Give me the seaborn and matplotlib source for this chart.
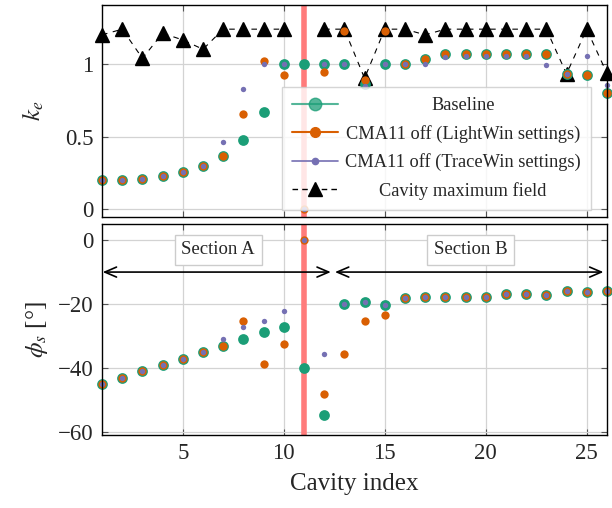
import numpy as np
import pandas as pd
import matplotlib
matplotlib.use("Agg")
import matplotlib.pyplot as plt
from matplotlib.lines import Line2D
import seaborn as sns

# ---------------- data ----------------
cavity_index = list(range(1, 27))

ke_baseline = [0.20, 0.20, 0.21, 0.227, 0.256, 0.30, 0.37, 0.475, 0.667, 1.0,
               1.0, 1.0, 1.0, 0.86, 1.0, 1.0, 1.03, 1.07, 1.07, 1.07,
               1.07, 1.07, 1.07, 0.927, 0.925, 0.80]
ke_lightwin = [0.20, 0.20, 0.21, 0.227, 0.256, 0.30, 0.37, 0.656, 1.02, 0.924,
               0.0, 0.945, 1.227, 0.888, 1.227, 1.0, 1.03, 1.07, 1.07, 1.07,
               1.07, 1.07, 1.07, 0.927, 0.925, 0.80]
ke_tracewin = [0.20, 0.20, 0.21, 0.227, 0.256, 0.30, 0.46, 0.828, 1.0, 1.0,
               0.0, 1.0, 1.0, 0.846, 1.0, 1.0, 1.0, 1.044, 1.05, 1.05,
               1.05, 1.05, 0.99, 0.927, 1.053, 0.853]
ke_cavity_max = [1.198, 1.237, 1.037, 1.209, 1.163, 1.099, 1.237, 1.237, 1.237, 1.237,
                 np.nan, 1.237, 1.237, 0.90, 1.237, 1.237, 1.198, 1.237, 1.237, 1.237,
                 1.237, 1.237, 1.237, 0.93, 1.237, 0.934]

phi_baseline = [-45, -43, -41, -39, -37, -35, -33, -31, -28.8, -27,
                -40, -54.7, -20, -19.2, -20.4, -18.1, -17.9, -17.9, -17.9, -17.7,
                -16.9, -16.8, -17, -15.9, -16.1, -15.9]
phi_lightwin = [-45, -43, -41, -39, -37, -35, -33, -25.1, -38.8, -32.3,
                0, -47.9, -35.4, -25.2, -23.5, -18.1, -17.9, -17.9, -17.9, -17.7,
                -16.9, -16.8, -17, -15.9, -16.1, -15.9]
phi_tracewin = [-45, -43, -41, -39, -37, -35, -31, -27.2, -25.4, -22,
                0, -35.4, -20, -19.2, -20.4, -18.1, -17.9, -17.9, -17.9, -17.7,
                -16.9, -16.8, -17, -15.9, -16.1, -15.9]

failed_cavity = 11
section_bounds = [1, 12.5, 26]
section_labels = ["Section A", "Section B"]
legend_labels = ["Baseline", "CMA11 off (LightWin settings)",
                 "CMA11 off (TraceWin settings)", "Cavity maximum field"]

# ---------------- style ----------------
sns.set_theme(style="whitegrid")
plt.rcParams["font.family"] = ["Liberation Serif", "DejaVu Serif"]
plt.rcParams["mathtext.fontset"] = "stix"

c_base, c_lw, c_tw = "#1b9e77", "#d95f02", "#7570b3"

fig = plt.figure(figsize=(6.12, 5.08), dpi=100)
ax1 = fig.add_axes([0.1667, 0.5734, 0.825, 0.4168])
ax2 = fig.add_axes([0.1667, 0.1437, 0.825, 0.4148], sharex=ax1)

df = pd.DataFrame({"idx": cavity_index,
                   "ke_b": ke_baseline, "ke_lw": ke_lightwin, "ke_tw": ke_tracewin,
                   "ke_max": ke_cavity_max,
                   "phi_b": phi_baseline, "phi_lw": phi_lightwin, "phi_tw": phi_tracewin})

for ax, cols in ((ax1, ("ke_b", "ke_lw", "ke_tw")), (ax2, ("phi_b", "phi_lw", "phi_tw"))):
    ax.axvline(failed_cavity, color="#ff7b7b", lw=4.0, zorder=2)
    sns.scatterplot(data=df, x="idx", y=cols[0], ax=ax, color=c_base, s=60,
                    linewidth=0, zorder=4, clip_on=False)
    sns.scatterplot(data=df, x="idx", y=cols[1], ax=ax, color=c_lw, s=36,
                    linewidth=0, zorder=5, clip_on=False)
    sns.scatterplot(data=df, x="idx", y=cols[2], ax=ax, color=c_tw, s=15,
                    linewidth=0, zorder=6, clip_on=False)

ax1.plot(df["idx"], df["ke_max"], ls=(0, (5, 5)), color="black", lw=0.8,
         marker="^", ms=9.5, mfc="black", mec="black", zorder=3, clip_on=False)

ax1.set_xlim(1, 26)
ax1.set_ylim(-0.05, 1.403)
ax2.set_ylim(-60.8, 4.9)
ax1.set_yticks([0, 0.5, 1])
ax1.set_yticklabels(["0", "0.5", "1"])
ax2.set_yticks([-60, -40, -20, 0])
ax2.set_yticklabels(["\u221260", "\u221240", "\u221220", "0"])
ax2.set_xticks([5, 10, 15, 20, 25])

for ax in (ax1, ax2):
    ax.grid(True, color="#d3d3d3", lw=0.9)
    ax.set_facecolor("white")
    for sp in ax.spines.values():
        sp.set_color("black")
        sp.set_linewidth(1.0)
        sp.set_zorder(8)
    ax.tick_params(direction="in", length=4, width=0.8, color="#555555",
                   top=True, right=True, bottom=True, left=True,
                   labelsize=16.5, pad=6)
ax1.tick_params(labelbottom=False)
ax1.set_xlabel("")
ax1.set_ylabel("$k_e$", fontsize=18, labelpad=14)
ax2.set_ylabel("$\\phi_s$ [°]", fontsize=18, labelpad=6)
ax2.set_xlabel("Cavity index", fontsize=18, labelpad=6)

# sections
arrow_y = -10
for i, lab in enumerate(section_labels):
    x0, x1 = section_bounds[i], section_bounds[i + 1]
    ax2.annotate("", xy=(x0, arrow_y), xytext=(x1, arrow_y),
                 arrowprops=dict(arrowstyle="<->,head_length=0.7,head_width=0.3",
                                 color="black", lw=1.2, shrinkA=2.5, shrinkB=0.5),
                 zorder=7)
    ax2.text((x0 + x1) / 2, -3, lab, ha="center", va="center", fontsize=13.5,
             bbox=dict(boxstyle="square,pad=0.35", fc="white", ec="#cccccc", lw=1.0),
             zorder=7)

# legend
handles = [
    Line2D([], [], color=c_base, lw=1.5, marker="o", ms=9, alpha=0.75),
    Line2D([], [], color=c_lw, lw=1.5, marker="o", ms=7),
    Line2D([], [], color=c_tw, lw=1.2, marker="o", ms=4.5),
    Line2D([], [], color="black", lw=1.0, ls=(0, (4, 3)), marker="^", ms=10),
]
leg = ax1.legend(handles, legend_labels, loc="lower right",
                 bbox_to_anchor=(0.968, 0.032), borderaxespad=0,
                 fontsize=13.2, frameon=True, fancybox=False, framealpha=0.82,
                 edgecolor="#cccccc", handlelength=2.5, handletextpad=0.4,
                 labelspacing=0.58, borderpad=0.55)
leg.get_frame().set_linewidth(1.0)
leg.set_zorder(10)

fig.canvas.draw()
r = fig.canvas.get_renderer()
texts = leg.get_texts()
ws = [t.get_window_extent(r).width for t in texts]
mw = max(ws)
for t, w in zip(texts, ws):
    t.set_x((mw - w) / 2)

fig.savefig("out.png", dpi=100)
